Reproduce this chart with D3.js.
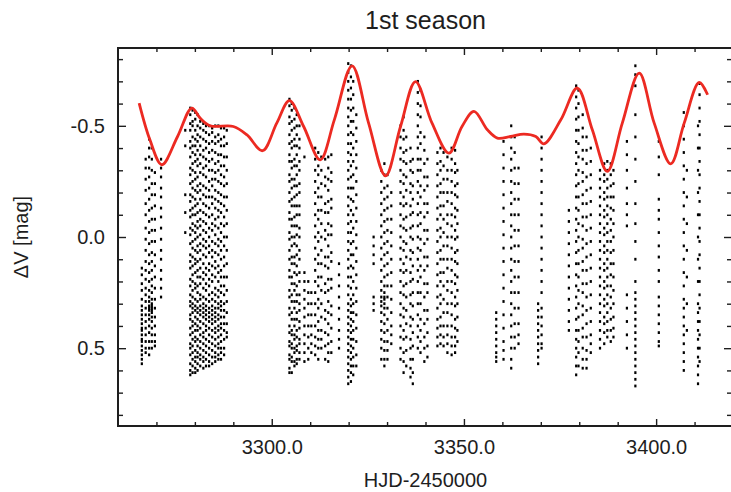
<!DOCTYPE html>
<html>
<head>
<meta charset="utf-8">
<script src="https://cdn.jsdelivr.net/npm/d3@7"></script>
<style>
  body { margin: 0; background: #fff; }
  text { font-family: "Liberation Sans", Arial, Helvetica, sans-serif; fill: #1e1e1e; }
  .axis path { display: none; }
  .axis line { stroke: #1e1e1e; stroke-width: 1.4; }
</style>
</head>
<body>
<div id="chart"></div>
<script>
// nightly runs: [HJD-2450000, delta V values in 0.01 mag]
const nights = [
  [3266.2, [14,17,21,24,28,31,33,35,37,39,41,42,44,46,47,49,51,53,55,57]],
  [3267.2, [-35,-31,-26,-21,-15,-10,-4,1,6,11,15,19,23,26,29,32,35,38,41,44,47,50,52]],
  [3268.1, [-44,-40,-36,-31,-27,-22,-17,-12,-7,-2,3,8,12,16,20,24,27,29,31,32,33,35,37,40,43,47,50,53]],
  [3268.8, [-40,-35,-30,-24,-19,-13,-8,-3,2,7,11,15,19,22,25,28,30,31,32,33,34,36,38,41,44,47,50]],
  [3269.6, [-29,-24,-19,-14,-8,-3,2,8,13,18,23,28,32,36,40,44,47,49]],
  [3271.2, [-35,-31,-27,-22,-18,-13,-9,-4,1,6,10,15,19,23,27]],
  [3277.5, [-48,-41,-19,-11,-2]],
  [3278.8, [-58,-55,-51,-48,-43,-40,-36,-31,-28,-24,-19,-16,-12,-9,-4,-1,3,8,11,14,19,22,26,29,31,35,37,41,44,48,50,53,57,60,62]],
  [3279.4, [-57,-52,-50,-45,-41,-38,-33,-30,-25,-22,-18,-13,-10,-6,-3,2,5,9,13,17,20,24,27,30,32,34,38,40,43,46,49,52,55,58,61]],
  [3280.1, [-56,-53,-48,-44,-41,-37,-34,-29,-26,-21,-17,-14,-10,-5,-2,1,6,10,12,16,21,23,28,31,33,36,39,42,45,47,51,54,56,59,61]],
  [3280.7, [-55,-50,-46,-43,-39,-35,-32,-27,-23,-20,-15,-11,-7,-4,0,4,7,11,15,18,22,25,29,32,34,37,40,42,46,49,52,54,57,60]],
  [3281.4, [-52,-49,-45,-41,-37,-33,-29,-24,-21,-17,-12,-8,-5,-1,3,6,10,14,18,21,26,28,31,33,35,38,41,44,47,50,53,55,58]],
  [3282.2, [-51,-48,-44,-39,-36,-31,-28,-23,-19,-15,-11,-7,-3,1,4,8,12,16,19,23,27,30,32,34,36,39,43,45,48,51,54,56,59]],
  [3282.9, [-50,-47,-43,-40,-35,-32,-27,-22,-18,-14,-10,-6,-2,2,5,9,14,17,21,24,28,31,33,35,37,40,42,46,49,52,55,58]],
  [3283.7, [-50,-46,-42,-38,-34,-30,-25,-21,-18,-13,-9,-4,0,4,7,12,15,19,22,26,29,32,34,36,38,41,44,47,50,53,56,58]],
  [3284.5, [-49,-47,-43,-39,-35,-30,-26,-23,-18,-15,-10,-6,-3,2,6,9,13,17,20,25,28,31,33,35,37,39,42,45,48,51,54,57]],
  [3285.3, [-50,-45,-42,-38,-33,-29,-26,-21,-17,-13,-8,-5,-1,3,7,11,14,18,23,26,29,32,34,36,38,41,43,46,49,52,54,56]],
  [3286.1, [-50,-46,-43,-37,-34,-30,-25,-20,-16,-12,-9,-4,1,4,8,13,16,20,24,27,30,32,35,37,40,42,45,48,50,53,55]],
  [3286.8, [-49,-44,-41,-37,-32,-28,-24,-19,-15,-11,-6,-2,2,6,10,15,18,22,25,29,31,33,36,39,41,44,47,50,52,55]],
  [3287.6, [-49,-45,-41,-36,-32,-27,-23,-18,-14,-9,-5,0,4,9,13,18,22,26,30,33,36,39,42,46,50,53]],
  [3288.3, [-48,-42,-36,-30,-24,-18,-12,-6,0,6,12,18,24,29,34,39,43,45]],
  [3304.6, [-62,-59,-54,-51,-46,-42,-37,-34,-28,-25,-20,-16,-11,-8,-2,1,6,10,15,18,24,27,32,35,40,43,47,49,53,55,59,61]],
  [3305.2, [-60,-57,-52,-48,-43,-40,-34,-31,-26,-22,-17,-14,-8,-5,0,4,9,12,18,21,26,29,34,37,42,44,48,50,54,56,61]],
  [3305.9, [-58,-53,-49,-44,-41,-35,-32,-26,-23,-18,-14,-9,-5,0,3,9,12,16,21,24,29,32,37,40,44,46,50,52,56,58]],
  [3306.5, [-55,-50,-46,-41,-37,-32,-28,-23,-19,-14,-10,-5,-1,4,8,13,17,22,26,29,34,37,42,45,49,51,55,57]],
  [3307.2, [-50,-44,-40,-34,-30,-24,-20,-14,-10,-4,0,6,10,16,20,26,30,33,38,41,46,48,52,55]],
  [3308.5, [-36,16,20,24,28,32,36,40,44,48,52,56]],
  [3309.5, [20,25,30,35,40,45,50,55]],
  [3310.3, [25,30,35,40,44,48,52]],
  [3311.3, [-40,-35,-30,-25,-20,-15,-10,-5,0,5,10,15,20,25,30,35,40,45,49,53]],
  [3312.1, [-38,-32,-28,-22,-18,-12,-8,-2,2,8,12,18,22,28,32,38,42,46,50,55]],
  [3312.9, [-36,-30,-24,-18,-12,-6,0,6,12,18,24,30,36,42,46,50]],
  [3313.9, [-35,-27,-23,-15,-11,-3,1,9,13,21,25,33,37,43,49,55]],
  [3314.7, [-36,-31,-26,-21,-16,-11,-6,-1,4,9,14,19,24,29,34,39,44,48,52,56]],
  [3315.5, [-37,-29,-25,-17,-13,-5,-1,7,11,19,23,31,35,41,47,52]],
  [3317.5, [12,17,22,27,32,37,42,46,50]],
  [3319.9, [-78,-74,-70,-66,-62,-58,-54,-50,-46,-42,-38,-34,-30,-26,-22,-18,-14,-10,-6,-2,2,6,10,14,18,22,26,30,33,36,39,42,45,48,51,54,57,60,63,66]],
  [3320.6, [-77,-72,-67,-62,-57,-52,-47,-42,-37,-32,-27,-22,-17,-12,-7,-2,3,8,13,18,23,28,31,34,37,40,43,46,49,52,55,58,61,65]],
  [3321.2, [-70,-64,-58,-52,-46,-40,-34,-28,-22,-16,-10,-4,2,8,14,20,26,30,34,38,42,46,50,54,58,62]],
  [3322.0, [-55,-49,-43,-37,-31,-25,-19,-13,-7,-1,5,11,17,23,29,35,41,47,53,58]],
  [3326.5, [0,4,8,12,27,30,33]],
  [3328.5, [-30,-25,-20,-15,-10,-5,0,5,10,15,20,24,27,29,31,34,38,42,46,50,55]],
  [3329.3, [-33,-28,-22,-17,-12,-7,-2,3,8,13,18,22,25,27,28,30,32,35,39,43,47,51,55,58]],
  [3330.1, [-28,-23,-18,-13,-8,-3,2,7,12,17,22,27,32,37,42,47,51,55]],
  [3331.1, [-20,-14,-8,-2,4,10,16,22,28,34,40,44,48]],
  [3333.5, [-50,-45,-40,-35,-30,-25,-20,-15,-10,-5,0,5,10,15,20,25,30,35,40,45,50,55]],
  [3334.3, [-54,-48,-44,-38,-34,-28,-24,-18,-14,-8,-4,2,6,12,16,22,26,32,36,42,46,52,56,61]],
  [3335.0, [-45,-39,-33,-27,-21,-15,-9,-3,3,9,15,21,27,33,39,45,51,58]],
  [3336.1, [-40,-34,-30,-24,-20,-14,-10,-4,0,6,10,16,20,26,30,36,40,46,50,55,59,63]],
  [3336.7, [-35,-29,-23,-17,-11,-5,1,7,13,19,25,31,37,43,49,55,61,66]],
  [3338.0, [-70,-65,-60,-55,-50,-45,-40,-35,-30,-25,-20,-15,-10,-5,0,5,10,15,20,25,30,35,40,45,50]],
  [3338.7, [-66,-59,-54,-47,-42,-35,-30,-23,-18,-11,-6,1,6,13,18,25,30,37,42,47,52]],
  [3339.7, [-45,-39,-33,-27,-21,-15,-9,-3,3,9,15,21,27,33,39,45,50,56]],
  [3340.5, [-35,-27,-23,-15,-11,-3,1,9,13,21,25,33,37,43,49,54]],
  [3343.1, [-38,-33,-28,-23,-18,-13,-8,-3,2,7,12,17,22,27,32,37,41,45,49]],
  [3343.9, [-40,-34,-30,-24,-20,-14,-10,-4,0,6,10,16,20,26,30,36,40,44,48]],
  [3344.7, [-38,-32,-26,-20,-14,-8,-2,4,10,16,22,28,34,40,45,49]],
  [3345.7, [-36,-30,-26,-20,-16,-10,-6,0,4,10,14,20,24,30,34,40,44,48,52]],
  [3346.8, [-40,-35,-30,-25,-20,-15,-10,-5,0,5,10,15,20,25,30,35,40,45,49,53]],
  [3347.7, [-39,-33,-29,-23,-19,-13,-9,-3,1,7,11,17,21,27,31,37,41,45,49,52]],
  [3348.3, [-30,-24,-18,-12,-6,0,6,12,18,24,30,36,42,47]],
  [3358.4, [34,37,40,43,46,49,52,54,56]],
  [3360.3, [-43,-37,-31,-25,-19,-13,-7,-1,5,11,17,23,29,35,41,47,51,55]],
  [3362.3, [-50,-45,-40,-35,-30,-25,-20,-15,-10,-5,0,5,10,15,20,25,30,35,40,45,50,55,59]],
  [3363.2, [-45,-38,-31,-24,-17,-10,-3,4,11,18,25,32,39,45,50]],
  [3364.2, [-31,-24,-17,-10,-3,4,11,18,25,32,39,44,48]],
  [3369.3, [30,33,36,39,42,45,48,51,54,57]],
  [3370.2, [-45,-40,-35,-30,-25,-20,-15,-10,-5,0,5,10,15,20,25,32,36,40,44,48,50]],
  [3377.3, [-12,-7,-2,3,8,13,18,23,28,33,38,42]],
  [3379.2, [-68,-63,-58,-53,-48,-43,-38,-33,-28,-23,-18,-13,-8,-3,2,7,12,17,22,27,32,37,42,46,50,54,58,62]],
  [3379.8, [-66,-60,-54,-48,-42,-36,-30,-24,-18,-12,-6,0,6,12,18,24,30,36,42,47,52,58]],
  [3380.9, [-55,-49,-45,-39,-35,-29,-25,-19,-15,-9,-5,1,5,11,15,21,25,31,35,41,45,50,55,59]],
  [3381.9, [-45,-39,-33,-27,-21,-15,-9,-3,3,9,15,21,27,33,39,45,51,55,59]],
  [3383.0, [-40,-34,-28,-22,-16,-10,-4,2,8,14,20,26,32,38,44,48,52]],
  [3385.4, [-30,-26,-22,-18,-14,-10,-6,-2,2,6,10,14,18,22,26,30,34,38,42,46,50]],
  [3386.5, [-33,-28,-25,-20,-17,-12,-9,-4,-1,4,7,12,15,20,23,28,31,36,39,43,48]],
  [3387.3, [-34,-30,-26,-22,-18,-14,-10,-6,-2,2,6,10,14,18,22,26,30,34,38,42,45]],
  [3388.2, [-33,-28,-23,-18,-13,-8,-3,2,7,12,17,22,27,32,37,42,47]],
  [3388.9, [-30,-24,-18,-12,-6,0,6,12,18,24,30,36,41,45]],
  [3392.4, [-43,-37,-30,-22,-15,-10,-5,26,32,38,44,50]],
  [3394.6, [-77,-73,-68,-55,-45,-35,-25,-15,-6,2,10,20,25,28,31,34,37,40,43,46,49,52,55,58,61,64,67]],
  [3400.7, [-43,-36,-28,-17,-12,-8,-2,4,9,15,20,27,31,35,39,43,47,49]],
  [3407.2, [-56,-50,-44,-38,-32,-26,-20,-14,-8,-2,4,10,16,22,28,32,36,40,44,48,52,56,60]],
  [3408.0, [-30,-18,-6,6,18,30,42]],
  [3410.9, [-50,-40,-30,-20,-10,0,10,20,30,34,38,42,46,50,54,58,62,66]],
  [3411.3, [-69,-64,-58,-52,-46,-40,-34,-28,-22,-16,-10,-4,2,8,14,20,26,32,38,44,50,56]]
];

// fitted curve
const fitT = [3265.5,3268.3,3271.4,3275.5,3279.2,3281.4,3284.0,3290.0,3293.5,3297.6,3301.3,3304.6,3308.3,3312.6,3316.3,3320.9,3325.2,3329.6,3333.5,3337.4,3341.7,3346.1,3349.5,3352.6,3356.1,3358.7,3362.1,3365.6,3368.7,3370.8,3375.2,3379.5,3383.4,3387.3,3391.2,3395.6,3399.5,3403.8,3407.3,3411.2,3413.4];
const fitM = [-0.602,-0.437,-0.325,-0.452,-0.580,-0.534,-0.500,-0.497,-0.460,-0.388,-0.512,-0.613,-0.497,-0.347,-0.528,-0.770,-0.512,-0.275,-0.497,-0.699,-0.512,-0.377,-0.497,-0.565,-0.482,-0.445,-0.452,-0.463,-0.452,-0.419,-0.527,-0.670,-0.482,-0.295,-0.512,-0.737,-0.512,-0.329,-0.512,-0.695,-0.640];

const xTicks = [3300, 3350, 3400];
const yTicks = [-0.5, 0.0, 0.5];

const W = 731, H = 492;
const pLeft = 118, pRight = 733, pTop = 48, pBottom = 426;

var svg = d3.select("#chart").append("svg")
  .attr("width", W)
  .attr("height", H);

var x = d3.scaleLinear().domain([3260, 3420]).range([pLeft, pRight]);
var y = d3.scaleLinear().domain([-0.85, 0.85]).range([pTop, pBottom]);

svg.append("clipPath").attr("id", "clip")
  .append("rect")
    .attr("x", pLeft).attr("y", pTop)
    .attr("width", pRight - pLeft).attr("height", pBottom - pTop);

///////////////////////
// Axes (all ticks point inward)
var xMinor = d3.range(3270, 3420, 10).filter(v => xTicks.indexOf(v) < 0);
var yMinor = d3.range(-8, 9).map(v => v / 10).filter(v => Math.abs(v * 2) % 1 > 0.01);
var fmt = v => d3.format(".1f")(v).replace("−", "-");

function addAxis(axis, tr) {
  return svg.append("g").attr("class", "axis").attr("transform", tr).call(axis);
}

addAxis(d3.axisBottom(x).tickValues(xTicks).tickSize(-7).tickPadding(14).tickFormat(fmt),
  "translate(0," + pBottom + ")");
addAxis(d3.axisBottom(x).tickValues(xMinor).tickSize(-4).tickFormat(""), "translate(0," + pBottom + ")");
addAxis(d3.axisTop(x).tickValues(xTicks).tickSize(-7).tickFormat(""), "translate(0," + pTop + ")");
addAxis(d3.axisTop(x).tickValues(xMinor).tickSize(-4).tickFormat(""), "translate(0," + pTop + ")");

addAxis(d3.axisLeft(y).tickValues(yTicks).tickSize(-8).tickPadding(13).tickFormat(fmt),
  "translate(" + pLeft + ",0)");
addAxis(d3.axisLeft(y).tickValues(yMinor).tickSize(-5).tickFormat(""), "translate(" + pLeft + ",0)");
addAxis(d3.axisRight(y).tickValues(yTicks).tickSize(-8).tickFormat(""), "translate(" + (pRight - 1) + ",0)");
addAxis(d3.axisRight(y).tickValues(yMinor).tickSize(-5).tickFormat(""), "translate(" + (pRight - 1) + ",0)");

svg.selectAll(".axis text").style("font-size", "20px");

///////////////////////
// observations
var pts = [];
nights.forEach(function(n) {
  n[1].forEach(function(m) { pts.push({t: n[0], m: m / 100}); });
});

svg.append("g").attr("clip-path", "url(#clip)")
  .selectAll("rect")
  .data(pts)
  .enter().append("rect")
    .attr("x", d => x(d.t) - 1.1)
    .attr("y", d => y(d.m) - 1.4)
    .attr("width", 2.2)
    .attr("height", 2.8)
    .attr("fill", "#000");

// fit
var line = d3.line()
  .x((d, i) => x(fitT[i]))
  .y(d => y(d))
  .curve(d3.curveCatmullRom.alpha(0.5));

svg.append("path")
  .attr("clip-path", "url(#clip)")
  .attr("d", line(fitM))
  .attr("fill", "none")
  .attr("stroke", "#ec2a22")
  .attr("stroke-width", 2.8);

// frame
svg.append("rect")
  .attr("x", pLeft).attr("y", pTop)
  .attr("width", pRight - pLeft).attr("height", pBottom - pTop)
  .attr("fill", "none")
  .attr("stroke", "#1e1e1e")
  .attr("stroke-width", 2);

///////////////////////
// labels
svg.append("text")
  .attr("x", (pLeft + pRight) / 2)
  .attr("y", 29)
  .attr("text-anchor", "middle")
  .style("font-size", "25px")
  .text("1st season");

svg.append("text")
  .attr("x", (pLeft + pRight) / 2)
  .attr("y", 487)
  .attr("text-anchor", "middle")
  .style("font-size", "20px")
  .text("HJD-2450000");

svg.append("text")
  .attr("transform", "translate(28," + y(0) + ") rotate(-90)")
  .attr("text-anchor", "middle")
  .style("font-size", "20px")
  .text("ΔV [mag]");
</script>
</body>
</html>
